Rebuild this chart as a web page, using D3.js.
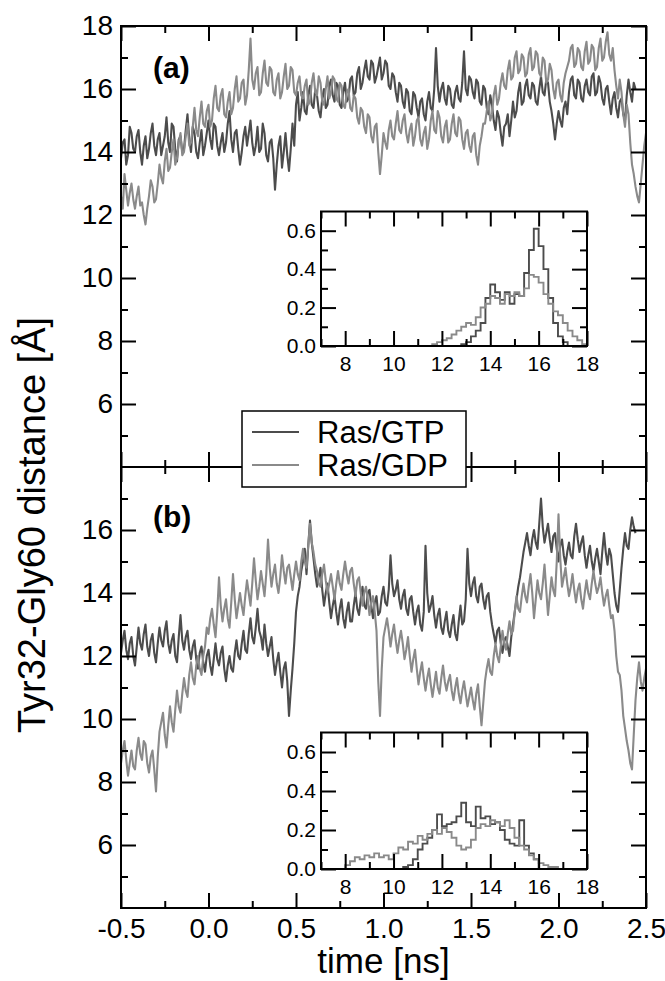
<!DOCTYPE html>
<html lang="en">
<head>
<meta charset="UTF-8">
<title>Tyr32-Gly60 distance</title>
<script src="https://cdn.jsdelivr.net/npm/d3@7"></script>
<style>
  body { margin: 0; background: #fff; }
  text { font-family: "Liberation Sans", Arial, Helvetica, sans-serif; fill: #000; }
</style>
</head>
<body>
<svg id="chart" width="665" height="981"></svg>
<script>
// --- Data ---
// time series: first sample at -0.5 ns, one sample every 0.01 ns
const tStart = -0.5;
const tStep = 0.01;

// panel (a)
const gtpA = [
  13.8,14.3,14.4,13.6,13.9,14.8,14.6,14.1,14.0,14.5,14.7,14.0,13.6,14.2,14.5,13.8,14.1,14.6,14.9,14.2,
  13.9,14.4,14.6,13.9,14.2,14.5,15.1,14.3,14.0,14.9,14.8,14.1,13.7,14.4,14.5,14.0,14.1,14.7,15.2,14.4,
  14.0,14.8,14.6,14.0,13.8,14.3,14.7,13.9,14.2,14.6,15.0,14.4,14.1,14.9,14.8,14.2,13.9,14.3,14.6,14.0,
  14.3,14.9,15.3,14.4,14.0,14.6,14.7,14.1,13.6,14.0,14.5,14.8,14.2,14.6,15.0,14.3,13.9,14.2,14.8,14.0,
  14.1,14.9,14.6,13.9,13.7,14.3,14.4,13.8,12.8,13.6,14.2,14.5,13.5,14.0,14.6,13.9,13.4,14.1,14.9,14.2,
  15.5,15.9,15.0,15.4,15.9,15.3,15.2,15.8,16.1,15.5,15.4,16.0,15.8,15.3,15.1,15.7,16.0,15.4,15.5,16.1,
  16.3,15.8,15.6,16.2,16.1,15.5,15.4,15.9,16.2,15.6,15.7,16.3,16.4,15.8,15.9,16.5,16.7,16.0,16.2,16.6,
  16.9,16.4,16.3,16.9,16.8,16.2,16.4,16.7,17.0,16.3,16.5,16.9,16.8,16.1,16.0,16.5,16.4,15.9,15.6,16.2,
  16.1,15.6,15.4,16.0,15.9,15.3,15.2,15.9,15.8,15.4,15.1,15.6,15.7,15.2,15.0,15.6,15.9,15.4,15.3,16.0,
  17.3,16.1,15.6,16.0,16.2,15.7,15.5,16.1,16.0,15.5,15.4,15.9,16.1,15.7,15.6,16.2,17.2,16.0,15.8,16.4,
  16.3,15.9,15.7,16.3,16.2,15.6,15.5,16.1,16.0,15.4,15.2,15.8,15.5,15.0,14.7,15.3,15.1,14.6,14.2,14.8,
  14.9,15.2,14.5,15.0,15.6,15.1,15.3,15.9,16.2,15.5,15.6,16.1,16.3,15.8,15.7,16.2,16.1,15.6,15.5,16.0,
  16.4,15.9,15.8,16.3,16.2,15.6,15.3,14.9,14.4,14.9,15.3,15.0,14.8,15.4,15.6,15.2,15.9,16.3,16.4,15.8,
  15.7,16.3,16.2,15.7,15.6,16.1,16.3,15.9,15.8,16.4,16.5,15.8,15.9,16.4,16.2,15.7,15.5,16.0,16.1,15.6,
  15.2,15.7,15.9,15.4,15.1,15.6,15.7,15.2,15.0,15.8,16.3,15.9,15.6,16.2,16.0];
const gdpA = [
  12.6,12.2,13.3,12.8,12.3,12.7,13.0,12.5,12.2,12.6,12.9,12.3,12.4,12.0,11.7,12.2,12.6,13.1,12.9,12.4,
  12.5,13.0,13.6,13.2,13.0,13.7,14.1,13.4,13.5,14.0,14.4,13.6,13.8,14.3,14.6,13.9,14.0,14.5,14.9,14.2,
  14.3,14.8,15.4,14.7,14.5,15.1,15.6,14.9,14.8,15.3,15.5,14.8,15.0,15.7,16.1,15.4,15.3,15.8,16.0,15.2,
  15.1,15.6,15.9,15.2,15.4,16.0,16.4,15.6,15.7,16.2,16.3,15.5,15.8,16.6,17.6,16.3,16.0,16.5,16.7,15.8,
  15.9,16.5,16.9,16.2,16.1,16.7,16.6,15.9,15.8,16.3,16.5,15.7,15.9,16.4,16.8,16.0,16.1,16.7,16.6,15.9,
  15.8,16.2,16.4,15.8,15.7,16.1,16.3,15.5,15.6,16.2,16.5,15.9,15.8,16.4,16.2,15.6,15.5,16.0,16.4,15.7,
  15.9,16.4,16.3,15.7,15.6,16.2,16.1,15.5,15.4,15.9,16.0,15.4,15.3,15.8,15.7,15.1,14.9,15.4,15.3,14.8,
  14.6,15.2,15.1,14.5,14.3,14.8,14.9,14.0,13.3,13.9,14.6,14.3,14.1,14.7,15.0,14.5,14.4,14.9,15.3,14.7,
  14.6,15.0,15.2,14.6,14.3,14.7,14.9,14.2,14.5,15.0,15.1,14.4,14.2,14.6,14.8,14.1,14.4,15.0,15.3,14.7,
  14.6,15.3,15.1,14.5,14.3,14.8,15.0,14.3,14.4,14.9,15.2,14.6,14.5,15.1,15.0,14.4,14.1,14.6,14.7,14.2,
  14.0,14.5,14.6,13.9,13.6,14.2,14.5,14.9,14.9,15.3,15.6,15.0,15.2,15.8,16.1,15.5,15.7,16.2,16.5,16.1,
  16.0,16.6,16.9,16.3,16.4,17.0,17.2,16.5,16.6,17.1,17.0,16.4,16.5,17.1,17.3,16.6,16.7,17.2,17.1,16.5,
  16.4,17.0,16.9,16.2,16.3,16.8,16.6,16.0,15.7,16.2,16.3,15.8,15.6,16.2,16.5,16.7,16.9,17.3,17.4,16.7,
  16.8,17.3,17.2,16.7,16.6,17.2,17.5,16.8,16.9,17.4,17.3,16.6,16.7,17.3,17.6,16.9,17.0,17.5,17.8,17.1,
  16.9,17.3,16.6,16.1,15.7,16.3,15.9,15.2,14.8,15.5,15.2,14.3,13.6,13.3,12.9,12.6,12.4,13.0,13.6,14.2,
  14.6];

// panel (b)
const gtpB = [
  12.1,12.5,12.8,12.2,11.9,12.4,12.6,12.0,11.7,12.3,12.9,12.4,12.2,12.7,13.0,12.3,12.0,12.5,12.7,12.1,
  11.8,12.4,12.9,12.5,12.3,12.8,13.1,12.4,12.1,12.5,12.7,12.0,11.8,12.6,13.3,12.5,12.2,12.6,12.8,12.2,
  11.9,12.3,12.5,11.9,11.6,12.1,12.3,11.8,11.5,12.0,12.2,11.7,11.4,11.9,12.4,11.9,11.7,12.1,12.3,11.6,
  11.2,11.7,12.0,11.6,11.5,12.1,12.5,12.0,11.9,12.4,12.8,12.2,12.1,12.7,13.2,12.6,12.4,12.9,13.5,12.8,
  12.6,12.2,13.0,12.4,12.0,12.3,12.6,11.9,11.4,11.8,12.1,11.5,11.0,11.6,11.8,11.2,10.1,10.9,11.6,12.4,
  13.4,13.9,14.2,14.7,15.0,15.4,14.6,15.5,16.3,15.6,15.1,14.6,14.2,14.5,14.8,14.1,13.6,14.0,14.3,13.7,
  13.2,13.6,13.9,13.4,13.0,13.5,13.8,13.2,12.9,13.4,13.7,13.1,13.1,13.6,14.0,13.5,13.3,13.8,14.2,13.6,
  13.5,14.0,14.1,13.6,13.2,13.7,13.9,13.3,13.4,13.9,14.2,13.7,13.6,14.1,15.2,14.3,13.9,14.1,14.4,13.8,
  13.5,13.9,14.1,13.5,13.3,13.8,13.9,13.4,13.0,13.4,13.6,13.0,12.8,13.4,15.5,14.0,13.4,13.6,13.9,13.3,
  12.9,13.3,13.5,12.9,12.7,13.1,13.4,12.8,12.6,13.0,13.3,12.7,12.5,13.1,13.6,13.0,13.1,13.8,15.4,14.3,
  13.9,14.3,14.5,13.9,13.7,14.2,14.3,13.8,13.5,13.9,14.0,13.4,13.0,12.7,12.4,12.8,12.9,12.4,12.1,12.5,
  12.6,12.3,12.0,12.6,13.0,13.4,13.8,14.2,14.5,14.9,15.3,15.6,15.9,15.5,15.2,15.7,16.0,15.6,15.4,16.2,
  17.0,16.1,15.6,15.9,16.2,15.7,15.3,15.8,15.9,15.4,15.0,15.5,15.7,15.2,14.9,15.3,15.6,15.2,15.1,15.8,
  16.2,15.7,15.3,15.6,15.8,15.2,14.8,15.2,15.5,15.0,14.7,15.1,15.4,15.0,14.6,15.3,15.9,15.3,14.9,15.4,
  15.2,14.6,14.0,13.6,13.4,14.1,14.8,15.4,15.9,15.5,15.4,16.0,16.4,16.1,15.9];
const gdpB = [
  8.6,9.0,9.3,8.7,8.2,8.6,9.0,8.5,8.4,9.0,9.4,8.9,8.7,9.3,9.2,8.6,8.3,8.8,9.0,8.4,
  7.7,8.8,9.6,9.9,10.2,9.5,9.1,9.8,10.4,9.9,9.6,10.3,10.9,10.4,10.2,10.8,11.3,10.9,10.7,11.4,
  11.8,11.3,11.1,11.7,12.0,11.6,11.4,12.0,12.3,12.9,12.7,13.2,13.5,13.0,12.6,13.4,14.5,13.6,13.1,13.5,
  13.8,13.2,12.9,13.7,14.6,13.8,13.2,13.6,14.0,13.6,13.3,13.9,14.4,14.0,13.6,14.3,15.1,14.4,13.8,14.2,
  14.7,14.3,13.9,14.6,15.7,14.8,14.2,14.6,14.9,14.3,14.0,14.5,15.2,14.7,14.3,14.8,14.9,14.5,14.1,14.6,
  15.0,14.6,14.4,15.0,15.4,15.0,14.8,15.5,16.2,15.6,15.3,14.9,14.7,14.3,14.2,14.6,14.9,14.4,14.0,14.3,
  14.6,14.2,13.8,14.3,14.7,14.3,14.1,14.6,15.0,14.6,14.3,14.7,14.8,14.3,13.9,14.4,14.5,14.0,13.6,14.0,
  14.2,13.8,13.3,13.7,13.9,13.4,12.8,11.2,10.1,11.6,12.6,12.9,13.2,12.8,12.3,12.7,13.0,12.5,12.1,12.5,
  12.8,12.4,11.9,12.2,12.6,12.0,11.5,11.9,12.2,11.6,11.1,11.5,11.8,11.3,10.9,11.3,11.6,11.1,10.7,11.1,
  11.5,11.0,10.8,11.3,11.7,11.2,10.9,11.2,11.4,10.9,10.6,11.0,11.3,10.8,10.5,10.9,11.2,10.8,10.4,10.7,
  11.0,10.6,10.3,10.8,11.1,10.4,9.8,10.5,11.2,11.6,11.9,11.5,11.4,12.0,12.4,12.0,11.8,12.3,12.8,12.4,
  12.2,12.7,13.1,12.7,12.8,13.4,13.9,13.5,13.4,13.9,14.3,13.9,13.7,14.2,14.6,14.0,13.2,13.8,14.4,14.0,
  13.8,14.3,14.9,14.1,13.3,13.9,14.5,14.1,13.9,15.0,16.5,15.1,14.2,14.5,14.8,14.3,13.9,14.2,14.6,14.1,
  13.7,14.1,14.3,13.8,13.5,14.0,14.4,14.0,13.8,14.3,14.7,14.3,14.0,14.2,14.5,14.0,13.6,13.9,14.1,13.6,
  13.2,13.3,12.8,12.0,11.5,11.4,10.9,10.1,9.7,9.3,9.0,8.6,8.4,9.5,10.6,11.3,11.8,11.2,10.9,11.3,
  11.6];

// inset histograms: bins of 0.2 A, each array starts at its own first bin
const binWidth = 0.2;
const histGtpAFrom = 12.8;
const histGtpA = [0.01,0.02,0.05,0.08,0.12,0.25,0.32,0.28,0.24,0.28,0.22,0.27,0.26,0.38,0.50,0.61,0.52,0.40,0.25,0.12,0.05,0.02];
const histGdpAFrom = 11.6;
const histGdpA = [0.01,0.02,0.03,0.04,0.06,0.08,0.10,0.12,0.11,0.15,0.20,0.22,0.26,0.25,0.22,0.27,0.26,0.28,0.26,0.30,
  0.37,0.36,0.33,0.27,0.22,0.18,0.16,0.12,0.08,0.05,0.03,0.01];
const histGtpBFrom = 10.4;
const histGtpB = [0.01,0.02,0.05,0.10,0.13,0.16,0.20,0.28,0.22,0.23,0.24,0.27,0.34,0.24,0.22,0.32,0.26,0.27,0.23,0.24,
  0.20,0.15,0.13,0.12,0.25,0.12,0.08,0.05,0.0];
const histGdpBFrom = 8.0;
const histGdpB = [0.02,0.04,0.06,0.05,0.07,0.06,0.08,0.06,0.07,0.05,0.08,0.11,0.10,0.14,0.13,0.17,0.15,0.18,0.20,0.18,
  0.21,0.19,0.16,0.12,0.10,0.11,0.15,0.21,0.23,0.22,0.25,0.24,0.22,0.25,0.21,0.16,0.12,0.10,0.07,0.05,
  0.03,0.02,0.01,0.01];

// ticks and labels
const timeTicks = [-0.5, 0, 0.5, 1, 1.5, 2, 2.5];
const timeMinor = [-0.25, 0.25, 0.75, 1.25, 1.75, 2.25];
const distTicksA = [6, 8, 10, 12, 14, 16, 18];
const distTicksB = [6, 8, 10, 12, 14, 16];
const distMinor = [5, 7, 9, 11, 13, 15, 17];
const histXTicks = [8, 10, 12, 14, 16, 18];
const histXMinor = [7, 9, 11, 13, 15, 17];
const histYTicks = [0, 0.2, 0.4, 0.6];
const histYMinor = [0.1, 0.3, 0.5];
const seriesNames = ["Ras/GTP", "Ras/GDP"];
const seriesColors = ["#4c4c4c", "#8a8a8a"];

// --- Drawing ---
const svg = d3.select("#chart");
const plotL = 121, plotR = 646, plotT = 26, plotM = 467, plotB = 908;
const MAJOR = 15, MINOR = 7;

const x = d3.scaleLinear().domain([-0.5, 2.5]).range([plotL, plotR]);
const yA = d3.scaleLinear().domain([4, 18]).range([plotM, plotT]);
const yB = d3.scaleLinear().domain([4, 18]).range([plotB, plotM]);

const toPoints = vals => vals.map((v, i) => [tStart + i * tStep, v]);

// adds an axis group and strips its domain line (frames are drawn separately)
const addAxis = (g, axis, fontSize) => {
  g.call(axis);
  g.select(".domain").remove();
  g.selectAll(".tick line").attr("stroke", "#000").attr("stroke-width", 2);
  g.selectAll(".tick text").attr("font-size", fontSize).attr("fill", "#000");
  g.attr("font-family", null);
  return g;
};

const drawPanel = (y, ticks, gtp, gdp, clipId, label, labelY) => {
  const y0 = y.range()[1], y1 = y.range()[0];
  svg.append("clipPath").attr("id", clipId)
    .append("rect").attr("x", plotL).attr("y", y0).attr("width", plotR - plotL).attr("height", y1 - y0);

  const line = d3.line().x(d => x(d[0])).y(d => y(d[1]));
  const g = svg.append("g").attr("clip-path", `url(#${clipId})`);
  [gtp, gdp].forEach((vals, k) => {
    g.append("path").datum(toPoints(vals))
      .attr("d", line).attr("fill", "none")
      .attr("stroke", seriesColors[k]).attr("stroke-width", 2.1)
      .attr("stroke-linejoin", "round");
  });

  // left/right axes
  addAxis(svg.append("g").attr("transform", `translate(${plotL},0)`),
    d3.axisLeft(y).tickValues(ticks).tickSize(-MAJOR).tickPadding(8).tickFormat(d3.format("d")), 28);
  addAxis(svg.append("g").attr("transform", `translate(${plotL},0)`),
    d3.axisLeft(y).tickValues(distMinor).tickSize(-MINOR).tickFormat(""), 0);
  addAxis(svg.append("g").attr("transform", `translate(${plotR},0)`),
    d3.axisRight(y).tickValues(ticks).tickSize(-MAJOR).tickFormat(""), 0);
  addAxis(svg.append("g").attr("transform", `translate(${plotR},0)`),
    d3.axisRight(y).tickValues(distMinor).tickSize(-MINOR).tickFormat(""), 0);

  // top/bottom tick rows of this panel
  addAxis(svg.append("g").attr("transform", `translate(0,${y0})`),
    d3.axisTop(x).tickValues(timeTicks).tickSize(-MAJOR).tickFormat(""), 0);
  addAxis(svg.append("g").attr("transform", `translate(0,${y0})`),
    d3.axisTop(x).tickValues(timeMinor).tickSize(-MINOR).tickFormat(""), 0);
  addAxis(svg.append("g").attr("transform", `translate(0,${y1})`),
    d3.axisBottom(x).tickValues(timeTicks).tickSize(-MAJOR).tickPadding(10).tickFormat(d => d.toFixed(1)), 28)
    .selectAll(".tick text").style("display", y1 === plotB ? null : "none");
  addAxis(svg.append("g").attr("transform", `translate(0,${y1})`),
    d3.axisBottom(x).tickValues(timeMinor).tickSize(-MINOR).tickFormat(""), 0);

  svg.append("rect").attr("x", plotL).attr("y", y0).attr("width", plotR - plotL).attr("height", y1 - y0)
    .attr("fill", "none").attr("stroke", "#000").attr("stroke-width", 2);

  svg.append("text").attr("x", 153).attr("y", labelY)
    .attr("font-size", 30).attr("font-weight", "bold").text(label);
};

const drawInset = (yTop, yBottom, hGtp, hGtpFrom, hGdp, hGdpFrom) => {
  const xi = d3.scaleLinear().domain([7, 18]).range([321, 587]);
  const yi = d3.scaleLinear().domain([0, 0.7]).range([yBottom, yTop]);
  svg.append("rect").attr("x", 321).attr("y", yTop).attr("width", 266).attr("height", yBottom - yTop)
    .attr("fill", "#fff");

  const step = d3.line().x(d => xi(d[0])).y(d => yi(d[1])).curve(d3.curveStepAfter);
  const histPoints = (vals, from) => [[from, 0]]
    .concat(vals.map((v, i) => [from + i * binWidth, v]))
    .concat([[from + vals.length * binWidth, 0]]);
  [[hGtp, hGtpFrom], [hGdp, hGdpFrom]].forEach(([vals, from], k) => {
    svg.append("path").datum(histPoints(vals, from))
      .attr("d", step).attr("fill", "none")
      .attr("stroke", seriesColors[k]).attr("stroke-width", 1.9);
  });

  addAxis(svg.append("g").attr("transform", `translate(0,${yBottom})`),
    d3.axisBottom(xi).tickValues(histXTicks).tickSize(-MAJOR).tickPadding(10).tickFormat(d3.format("d")), 21);
  addAxis(svg.append("g").attr("transform", `translate(0,${yBottom})`),
    d3.axisBottom(xi).tickValues(histXMinor).tickSize(-MINOR).tickFormat(""), 0);
  addAxis(svg.append("g").attr("transform", `translate(0,${yTop})`),
    d3.axisTop(xi).tickValues(histXTicks).tickSize(-MAJOR).tickFormat(""), 0);
  addAxis(svg.append("g").attr("transform", `translate(0,${yTop})`),
    d3.axisTop(xi).tickValues(histXMinor).tickSize(-MINOR).tickFormat(""), 0);
  addAxis(svg.append("g").attr("transform", "translate(321,0)"),
    d3.axisLeft(yi).tickValues(histYTicks).tickSize(-MAJOR).tickPadding(5).tickFormat(d3.format(".1f")), 21);
  addAxis(svg.append("g").attr("transform", "translate(321,0)"),
    d3.axisLeft(yi).tickValues(histYMinor).tickSize(-MINOR).tickFormat(""), 0);
  addAxis(svg.append("g").attr("transform", "translate(587,0)"),
    d3.axisRight(yi).tickValues(histYTicks).tickSize(-MAJOR).tickFormat(""), 0);
  addAxis(svg.append("g").attr("transform", "translate(587,0)"),
    d3.axisRight(yi).tickValues(histYMinor).tickSize(-MINOR).tickFormat(""), 0);

  svg.append("rect").attr("x", 321).attr("y", yTop).attr("width", 266).attr("height", yBottom - yTop)
    .attr("fill", "none").attr("stroke", "#000").attr("stroke-width", 2);
};

drawPanel(yA, distTicksA, gtpA, gdpA, "clipA", "(a)", 78);
drawPanel(yB, distTicksB, gtpB, gdpB, "clipB", "(b)", 527);
drawInset(211.5, 346, histGtpA, histGtpAFrom, histGdpA, histGdpAFrom);
drawInset(732.5, 869, histGtpB, histGtpBFrom, histGdpB, histGdpBFrom);

// legend
const legend = svg.append("g");
legend.append("rect").attr("x", 242).attr("y", 411).attr("width", 224).attr("height", 76)
  .attr("fill", "#fff").attr("stroke", "#000").attr("stroke-width", 1.5);
seriesNames.forEach((name, k) => {
  const ly = 432 + k * 33;
  legend.append("line").attr("x1", 252).attr("x2", 299).attr("y1", ly).attr("y2", ly)
    .attr("stroke", seriesColors[k]).attr("stroke-width", 2);
  legend.append("text").attr("x", 317).attr("y", ly + 11).attr("font-size", 31).text(name);
});

// axis titles
svg.append("text").attr("x", (plotL + plotR) / 2).attr("y", 973)
  .attr("text-anchor", "middle").attr("font-size", 35).text("time [ns]");
svg.append("text").attr("transform", "translate(45,525) rotate(-90)")
  .attr("text-anchor", "middle").attr("font-size", 38).text("Tyr32-Gly60 distance [Å]");
</script>
</body>
</html>
